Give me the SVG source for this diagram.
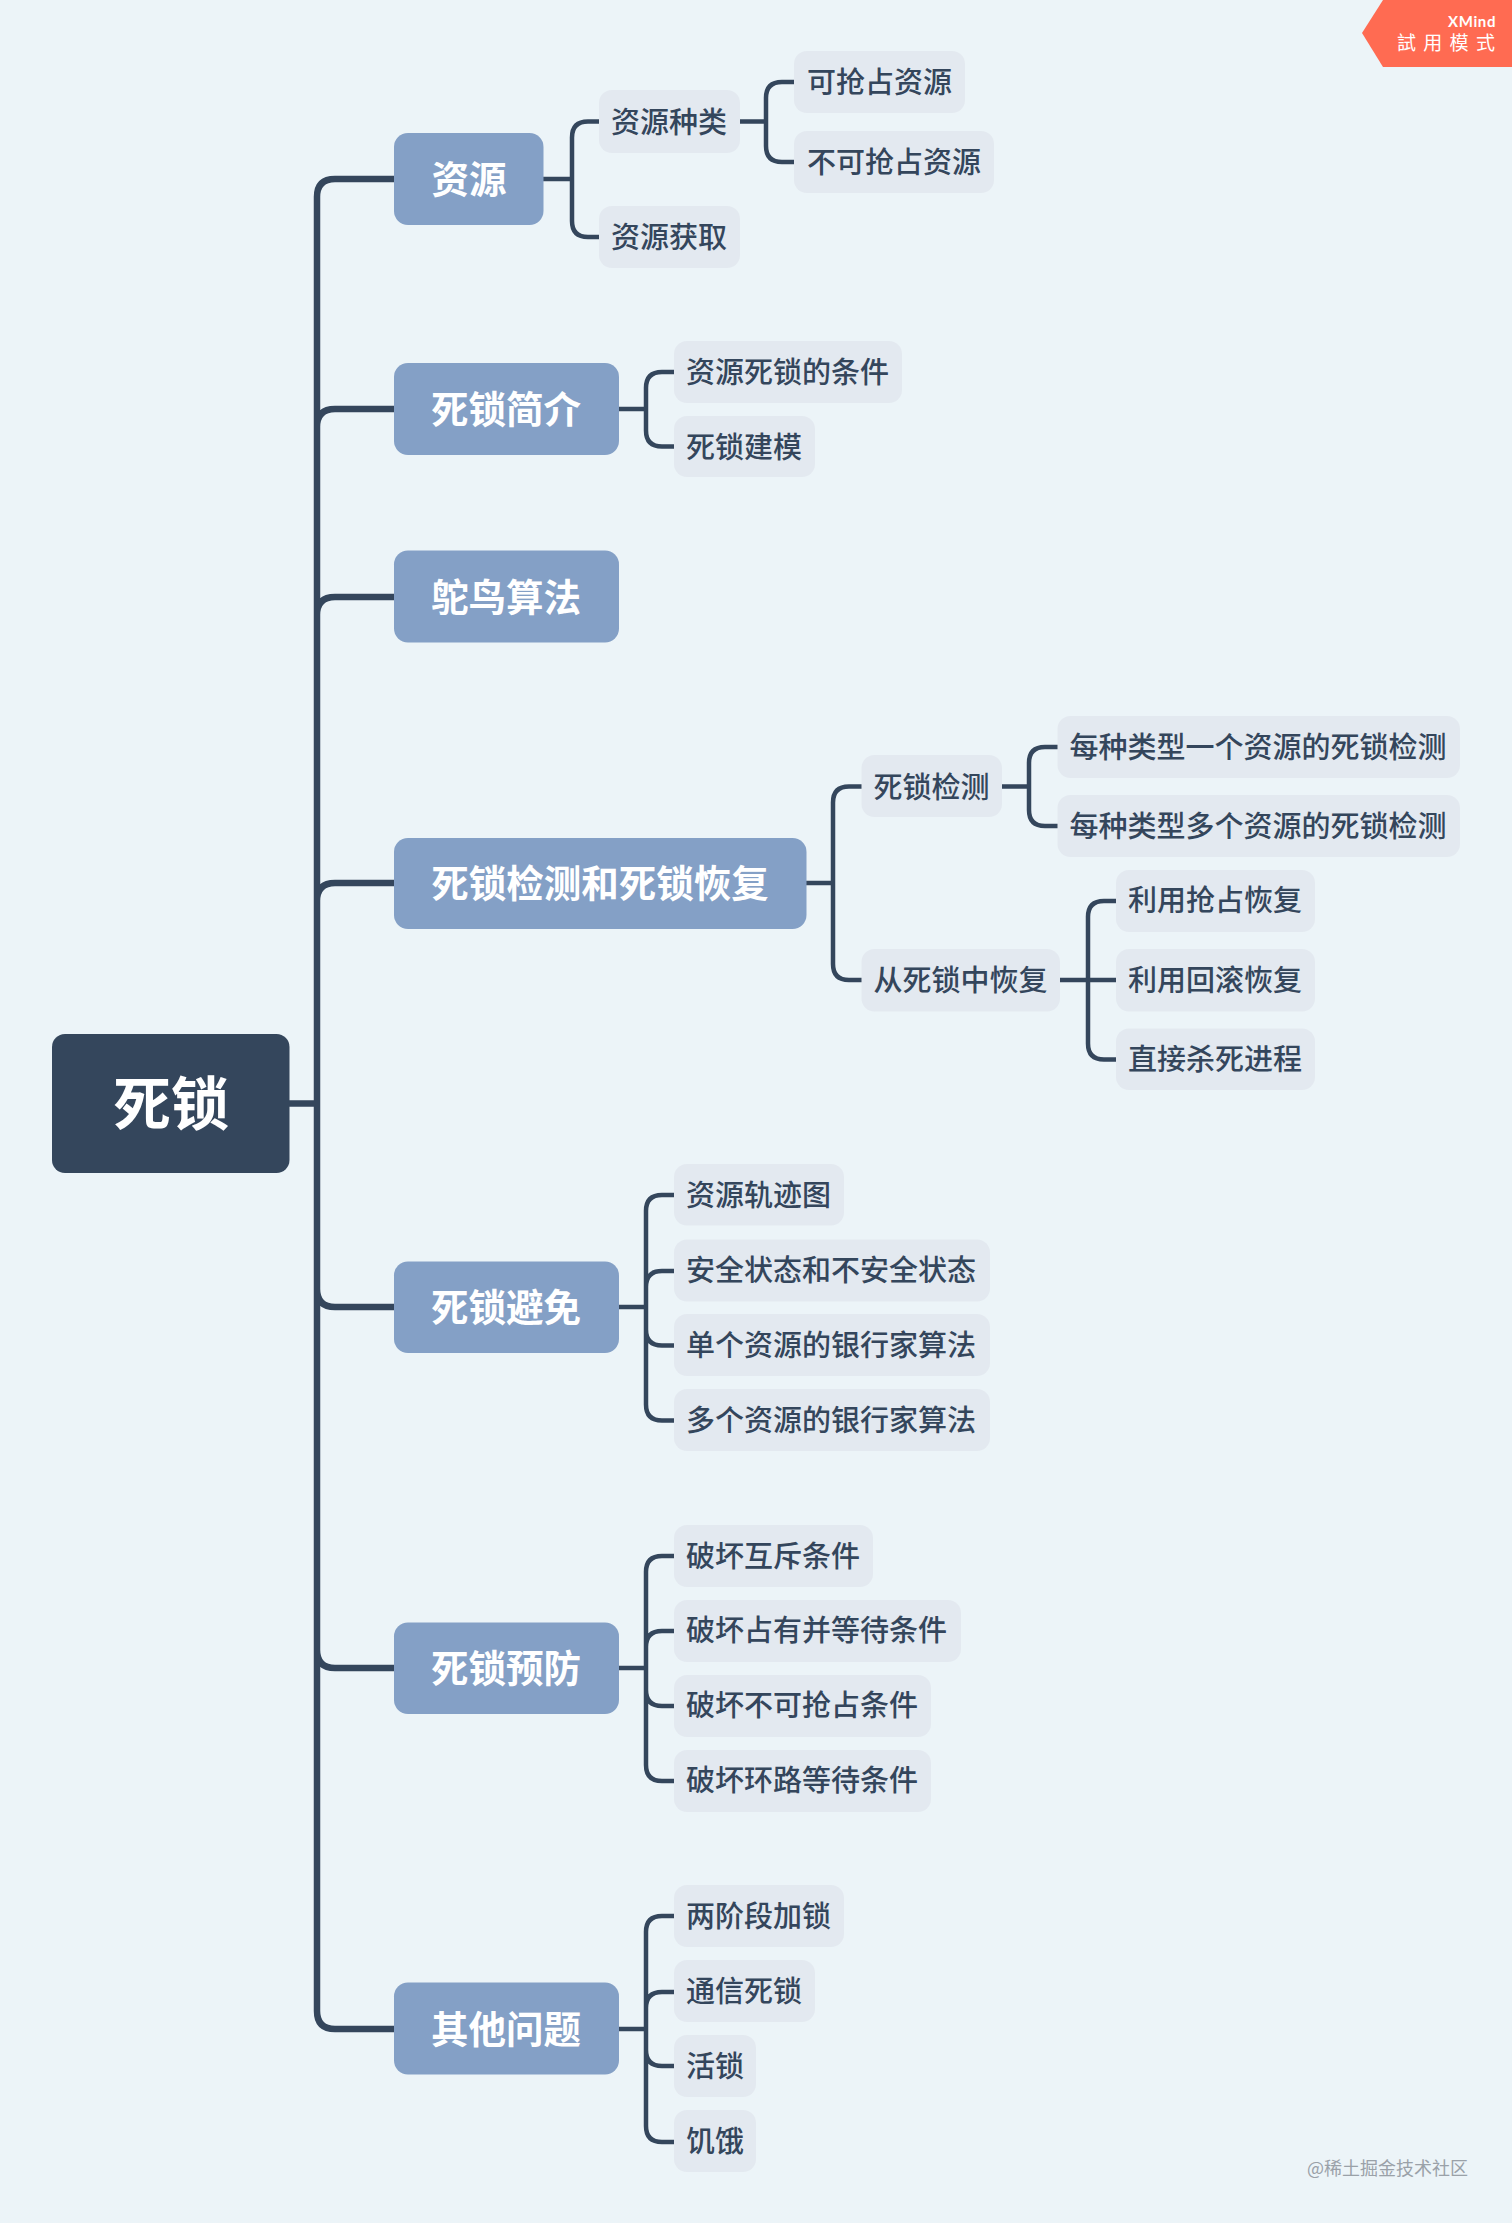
<svg xmlns="http://www.w3.org/2000/svg" width="1512" height="2223" viewBox="0 0 1512 2223">
<style>
text{font-family:"Noto Sans CJK SC","Noto Sans",sans-serif}
.root{fill:#34465c}
.topic{fill:#84a0c6}
.sub{fill:#e3e9f0}
.rt{font-size:58px;font-weight:600;fill:#fff;text-anchor:middle}
.tt{font-size:37.500px;font-weight:600;fill:#fff;text-anchor:middle}
.st{font-size:29px;font-weight:500;fill:#34465c}
.trunk,.branch{fill:none;stroke:#34465c;stroke-linecap:butt}
.trunk{stroke-width:6.5}
.branch{stroke-width:4.5}
</style>
<rect width="1512" height="2223" fill="#ecf4f8"/>
<g id="connectors">
<path class="trunk" d="M289 1103.5H317M394 179H335Q317 179 317 197V2011Q317 2029 335 2029H394M394 409H335Q317 409 317 427M394 597H335Q317 597 317 615M394 883H335Q317 883 317 901M394 1307H335Q317 1307 317 1289M394 1668H335Q317 1668 317 1650"/>
<path class="branch" d="M543 179H572M599 121.500H588Q572 121.500 572 137.500V221Q572 237 588 237H599"/>
<path class="branch" d="M740 121.500H766M794 82H782Q766 82 766 98V146Q766 162 782 162H794"/>
<path class="branch" d="M618 409H646M674 372H662Q646 372 646 388V430.500Q646 446.500 662 446.500H674"/>
<path class="branch" d="M806 883H833M862 786.500H849Q833 786.500 833 802.500V964Q833 980 849 980H862"/>
<path class="branch" d="M1002 786.500H1029M1058 747H1045Q1029 747 1029 763V810Q1029 826 1045 826H1058"/>
<path class="branch" d="M1060 980H1116M1116 901H1104Q1088 901 1088 917V1043.500Q1088 1059.500 1104 1059.500H1116"/>
<path class="branch" d="M618 1307H646M674 1195H662Q646 1195 646 1211V1404.500Q646 1420.500 662 1420.500H674M674 1271H662Q646 1271 646 1287M674 1345.500H662Q646 1345.500 646 1329.500"/>
<path class="branch" d="M618 1668H646M674 1556H662Q646 1556 646 1572V1765Q646 1781 662 1781H674M674 1631H662Q646 1631 646 1647M674 1706H662Q646 1706 646 1690"/>
<path class="branch" d="M618 2029H646M674 1916H662Q646 1916 646 1932V2126Q646 2142 662 2142H674M674 1992H662Q646 1992 646 2008M674 2066H662Q646 2066 646 2050"/>
</g>
<g id="n-root"><rect class="root" x="52" y="1034" width="237.500" height="139" rx="13"/><text class="rt" x="171" y="1125">死锁</text></g>
<g id="n-ziyuan"><rect class="topic" x="394" y="133" width="149.500" height="92" rx="14"/><text class="tt" x="469" y="193">资源</text></g>
<g id="n-jianjie"><rect class="topic" x="394" y="363" width="225" height="92" rx="14"/><text class="tt" x="506" y="423">死锁简介</text></g>
<g id="n-tuoniao"><rect class="topic" x="394" y="550.500" width="225" height="92" rx="14"/><text class="tt" x="506" y="610.500">鸵鸟算法</text></g>
<g id="n-jiance"><rect class="topic" x="394" y="838" width="412.500" height="91" rx="14"/><text class="tt" x="600" y="897">死锁检测和死锁恢复</text></g>
<g id="n-bimian"><rect class="topic" x="394" y="1261.500" width="225" height="91.500" rx="14"/><text class="tt" x="506" y="1321">死锁避免</text></g>
<g id="n-yufang"><rect class="topic" x="394" y="1622.500" width="225" height="91.500" rx="14"/><text class="tt" x="506" y="1682">死锁预防</text></g>
<g id="n-qita"><rect class="topic" x="394" y="1982.500" width="225" height="92" rx="14"/><text class="tt" x="506" y="2042.500">其他问题</text></g>

<g id="s1"><rect class="sub" x="599" y="90" width="141" height="63" rx="13"/><text class="st" x="611" y="133">资源种类</text></g>
<g id="s2"><rect class="sub" x="599" y="206" width="141" height="62" rx="13"/><text class="st" x="611" y="248">资源获取</text></g>
<g id="s3"><rect class="sub" x="794" y="51" width="171" height="62" rx="13"/><text class="st" x="807" y="93">可抢占资源</text></g>
<g id="s4"><rect class="sub" x="794" y="131" width="200" height="62" rx="13"/><text class="st" x="807" y="173">不可抢占资源</text></g>
<g id="s5"><rect class="sub" x="674" y="341" width="228" height="62" rx="13"/><text class="st" x="686" y="383">资源死锁的条件</text></g>
<g id="s6"><rect class="sub" x="674" y="416" width="141" height="61" rx="13"/><text class="st" x="686" y="458">死锁建模</text></g>
<g id="s7"><rect class="sub" x="861.500" y="755" width="140.500" height="62" rx="13"/><text class="st" x="873.500" y="798">死锁检测</text></g>
<g id="s8"><rect class="sub" x="861.500" y="949" width="198.500" height="62.500" rx="13"/><text class="st" x="873.500" y="991">从死锁中恢复</text></g>
<g id="s9"><rect class="sub" x="1057.500" y="716" width="402.500" height="62" rx="13"/><text class="st" x="1069.500" y="758">每种类型一个资源的死锁检测</text></g>
<g id="s10"><rect class="sub" x="1057.500" y="795" width="402.500" height="62" rx="13"/><text class="st" x="1069.500" y="837">每种类型多个资源的死锁检测</text></g>
<g id="s11"><rect class="sub" x="1116" y="870" width="199" height="62" rx="13"/><text class="st" x="1128" y="911">利用抢占恢复</text></g>
<g id="s12"><rect class="sub" x="1116" y="949" width="199" height="62.500" rx="13"/><text class="st" x="1128" y="991">利用回滚恢复</text></g>
<g id="s13"><rect class="sub" x="1116" y="1028.500" width="199" height="61.500" rx="13"/><text class="st" x="1128" y="1070">直接杀死进程</text></g>
<g id="s14"><rect class="sub" x="674" y="1164" width="170" height="61.500" rx="13"/><text class="st" x="686" y="1206">资源轨迹图</text></g>
<g id="s15"><rect class="sub" x="674" y="1239.500" width="316" height="62" rx="13"/><text class="st" x="686" y="1281">安全状态和不安全状态</text></g>
<g id="s16"><rect class="sub" x="674" y="1314" width="316" height="62" rx="13"/><text class="st" x="686" y="1356">单个资源的银行家算法</text></g>
<g id="s17"><rect class="sub" x="674" y="1389" width="316" height="62" rx="13"/><text class="st" x="686" y="1431">多个资源的银行家算法</text></g>
<g id="s18"><rect class="sub" x="674" y="1525" width="199" height="62" rx="13"/><text class="st" x="686" y="1567">破坏互斥条件</text></g>
<g id="s19"><rect class="sub" x="674" y="1600" width="287" height="62" rx="13"/><text class="st" x="686" y="1641">破坏占有并等待条件</text></g>
<g id="s20"><rect class="sub" x="674" y="1675" width="257" height="62" rx="13"/><text class="st" x="686" y="1716">破坏不可抢占条件</text></g>
<g id="s21"><rect class="sub" x="674" y="1750" width="257" height="62" rx="13"/><text class="st" x="686" y="1791">破坏环路等待条件</text></g>
<g id="s22"><rect class="sub" x="674" y="1885" width="170" height="62" rx="13"/><text class="st" x="686" y="1927">两阶段加锁</text></g>
<g id="s23"><rect class="sub" x="674" y="1960" width="141" height="62" rx="13"/><text class="st" x="686" y="2002">通信死锁</text></g>
<g id="s24"><rect class="sub" x="674" y="2035" width="82" height="62" rx="13"/><text class="st" x="686" y="2077">活锁</text></g>
<g id="s25"><rect class="sub" x="674" y="2110" width="82" height="62" rx="13"/><text class="st" x="686" y="2152">饥饿</text></g>

<g id="badge"><polygon points="1383,0 1512,0 1512,67 1383,67 1362,33" fill="#ff6b52"/>
<text x="1496" y="27" font-size="15" font-weight="700" fill="#fff" text-anchor="end" style="font-family:Lato,'Noto Sans',sans-serif;letter-spacing:.6px">XMind</text>
<text x="1397" y="50" font-size="19" fill="#fff" letter-spacing="7.300" style="font-family:'Noto Sans CJK TC',sans-serif">試用模式</text></g>
<text id="watermark" x="1307" y="2175" font-size="18" fill="#9aa1a8">@稀土掘金技术社区</text>
</svg>
